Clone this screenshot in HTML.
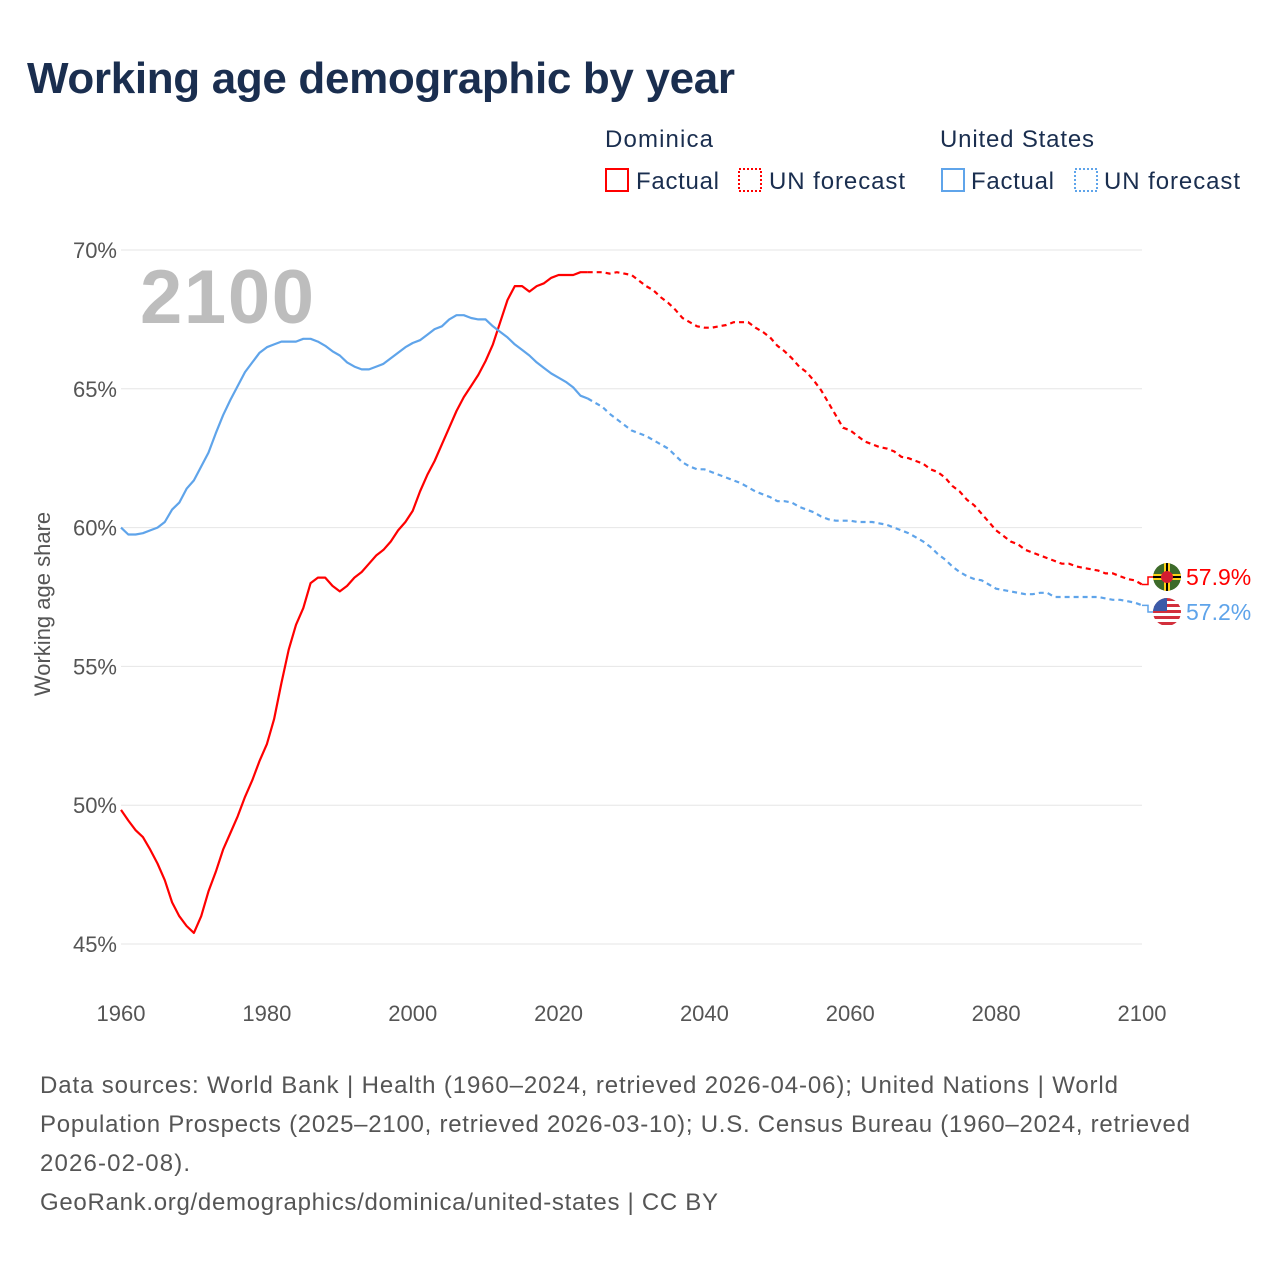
<!DOCTYPE html>
<html><head><meta charset="utf-8"><style>
body{margin:0;background:#fff;font-family:"Liberation Sans",sans-serif}
</style></head><body>
<svg id="c" width="1280" height="1280" xmlns="http://www.w3.org/2000/svg" style="font-family:'Liberation Sans',sans-serif">
<defs><clipPath id="usclip"><circle cx="1167" cy="612" r="14"/></clipPath><clipPath id="dmclip"><circle cx="1167" cy="577" r="14"/></clipPath></defs>
<text x="27" y="93" font-size="44" font-weight="bold" fill="#1a2e4f" textLength="708">Working age demographic by year</text>
<g font-size="24" fill="#1a2e4f">
<text x="605" y="147" textLength="108">Dominica</text>
<g><rect x="606" y="169" width="22" height="22" fill="none" stroke="#f00" stroke-width="2"/><text x="636" y="189" textLength="83">Factual</text></g>
<g><rect x="739" y="169" width="22" height="22" fill="none" stroke="#f00" stroke-width="2" stroke-dasharray="2,2"/><text x="769" y="189" textLength="136">UN forecast</text></g>
<text x="940" y="147" textLength="154">United States</text>
<g><rect x="942" y="169" width="22" height="22" fill="none" stroke="#5fa4ea" stroke-width="2"/><text x="971" y="189" textLength="83">Factual</text></g>
<g><rect x="1075" y="169" width="22" height="22" fill="none" stroke="#5fa4ea" stroke-width="2" stroke-dasharray="2,2"/><text x="1104" y="189" textLength="136">UN forecast</text></g>
</g>
<text x="140" y="323" font-size="76" font-weight="bold" fill="#bdbdbd" textLength="174">2100</text>
<text transform="translate(50,604) rotate(-90)" text-anchor="middle" font-size="22" fill="#555">Working age share</text>
<g id="grid"></g><g id="series"></g>
<g font-size="24" fill="#555">
<text x="40" y="1093" textLength="1078">Data sources: World Bank | Health (1960–2024, retrieved 2026-04-06); United Nations | World</text>
<text x="40" y="1132" textLength="1150">Population Prospects (2025–2100, retrieved 2026-03-10); U.S. Census Bureau (1960–2024, retrieved</text>
<text x="40" y="1171" textLength="150">2026-02-08).</text>
<text x="40" y="1210" textLength="678">GeoRank.org/demographics/dominica/united-states | CC BY</text>
</g>
</svg>
<script>
const yTicks=[45,50,55,60,65,70];
const xTicks=[1960,1980,2000,2020,2040,2060,2080,2100];
const startYear=1960;
const forecastStart=2024;
const dominica=[49.83,49.45,49.1,48.85,48.4,47.9,47.3,46.5,46.0,45.65,45.4,46.0,46.9,47.6,48.4,49.0,49.6,50.3,50.9,51.6,52.2,53.1,54.4,55.6,56.5,57.1,58.0,58.2,58.2,57.9,57.7,57.9,58.2,58.4,58.7,59.0,59.2,59.5,59.9,60.2,60.6,61.3,61.9,62.4,63.0,63.6,64.2,64.7,65.1,65.5,66.0,66.6,67.4,68.2,68.7,68.7,68.5,68.7,68.8,69.0,69.1,69.1,69.1,69.2,69.2,
69.2,69.2,69.15,69.2,69.15,69.1,68.9,68.7,68.55,68.3,68.1,67.85,67.55,67.4,67.25,67.2,67.2,67.25,67.3,67.4,67.4,67.4,67.2,67.05,66.85,66.55,66.35,66.1,65.8,65.6,65.3,64.95,64.5,64.05,63.6,63.5,63.3,63.1,63.0,62.9,62.85,62.75,62.55,62.5,62.4,62.3,62.1,62.0,61.8,61.5,61.3,61.0,60.8,60.5,60.2,59.9,59.7,59.5,59.4,59.2,59.1,59.0,58.9,58.8,58.7,58.7,58.6,58.55,58.5,58.45,58.35,58.35,58.25,58.15,58.1,57.95];
const unitedStates=[60.0,59.75,59.75,59.8,59.9,60.0,60.2,60.65,60.9,61.4,61.7,62.2,62.7,63.4,64.05,64.6,65.1,65.6,65.95,66.3,66.5,66.6,66.7,66.7,66.7,66.8,66.8,66.7,66.55,66.35,66.2,65.95,65.8,65.7,65.7,65.8,65.9,66.1,66.3,66.5,66.65,66.75,66.95,67.15,67.25,67.5,67.65,67.65,67.55,67.5,67.5,67.25,67.05,66.85,66.6,66.4,66.2,65.95,65.75,65.55,65.4,65.25,65.05,64.75,64.65,
64.5,64.35,64.1,63.9,63.7,63.5,63.4,63.3,63.15,63.0,62.85,62.6,62.35,62.2,62.1,62.1,62.0,61.9,61.8,61.7,61.6,61.45,61.3,61.2,61.1,60.95,60.95,60.9,60.75,60.65,60.55,60.4,60.3,60.25,60.25,60.25,60.2,60.2,60.2,60.15,60.1,60.0,59.9,59.8,59.65,59.5,59.3,59.05,58.85,58.6,58.4,58.25,58.15,58.1,57.95,57.8,57.75,57.7,57.65,57.6,57.6,57.65,57.65,57.5,57.5,57.5,57.5,57.5,57.5,57.5,57.45,57.4,57.4,57.35,57.3,57.2];
const endLabels=["57.9%","57.2%"];
const NS="http://www.w3.org/2000/svg";
const x=yr=>121+(yr-1960)*(1021/140);
const y=v=>250+(70-v)*(694/25);
function mk(t,a,p){const e=document.createElementNS(NS,t);for(const k in a)e.setAttribute(k,a[k]);p.appendChild(e);return e;}
const grid=document.getElementById('grid');
yTicks.forEach(v=>{
 const l=mk('line',{x1:121,x2:1142,y1:y(v),y2:y(v),stroke:'#e6e6e6','stroke-width':1},grid);
 
 
 const t=mk('text',{x:117,y:y(v)+8,'text-anchor':'end','font-size':22,fill:'#555'},grid);t.textContent=v+'%';
 
 
});
xTicks.forEach(v=>{
 const t=mk('text',{x:x(v),y:1021,'text-anchor':'middle','font-size':22,fill:'#555'},grid);t.textContent=v;
 
 
});
const S=document.getElementById('series');
function path(arr,a,b){let d='';for(let i=a;i<=b;i++){d+=(i===a?'M':'L')+x(startYear+i).toFixed(1)+','+y(arr[i]).toFixed(1);}return d;}
function draw(arr,col,name,ly,flagFn,label){
 const fi=forecastStart-startYear,n=arr.length-1;
 const p1=mk('path',{d:path(arr,0,fi),fill:'none',stroke:col,'stroke-width':2.2,'stroke-linejoin':'round'},S);
 
 
 const p2=mk('path',{d:path(arr,fi,n),fill:'none',stroke:col,'stroke-width':2.2,'stroke-dasharray':'5,4'},S);
 
 
 const ey=y(arr[n]);
 const c=mk('path',{d:`M1142,${ey} H1148 V${ly} H1153`,fill:'none',stroke:col,'stroke-width':1.5},S);
 
 
 const g=mk('g',{},S);
 
 
 flagFn(g,1167,ly);
 const t=mk('text',{x:1186,y:ly+8,'font-size':23,fill:col},S);t.textContent=label;
 
 
}
function dmFlag(g,cx,cy){
 g.setAttribute('clip-path','url(#dmclip)');
 mk('circle',{cx,cy,r:14,fill:'#3d6b2a'},g);
 mk('rect',{x:cx-14,y:cy-3,width:28,height:6,fill:'#fcd116'},g);
 mk('rect',{x:cx-3,y:cy-14,width:6,height:28,fill:'#fcd116'},g);
 mk('rect',{x:cx-14,y:cy-1,width:28,height:2,fill:'#000'},g);
 mk('rect',{x:cx-1,y:cy-14,width:2,height:28,fill:'#000'},g);
 mk('circle',{cx,cy,r:6,fill:'#d41c30'},g);
}
function usFlag(g,cx,cy){
 g.setAttribute('clip-path','url(#usclip)');
 mk('rect',{x:cx-14,y:cy-14,width:28,height:28,fill:'#fff'},g);
 [-14,-8,-2,4,10].forEach(o=>mk('rect',{x:cx-14,y:cy+o,width:28,height:3,fill:'#d22f3c'},g));
 mk('rect',{x:cx-14,y:cy-14,width:14,height:13,fill:'#3c5aa8'},g);
}
draw(dominica,'#ff0000','dominica',577,dmFlag,endLabels[0]);
draw(unitedStates,'#5fa4ea','united-states',612,usFlag,endLabels[1]);
</script>
</body></html>
